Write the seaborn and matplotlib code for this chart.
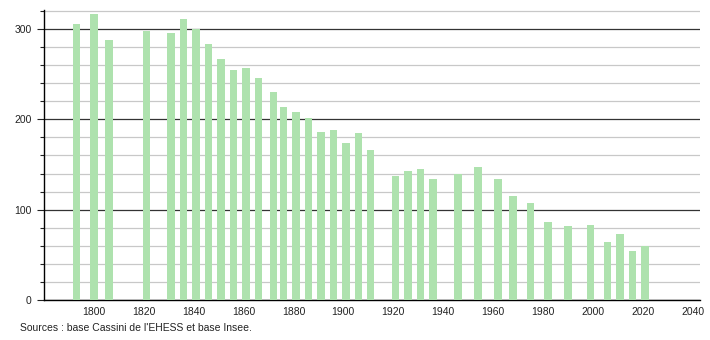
import matplotlib
matplotlib.use("Agg")
import matplotlib.pyplot as plt
import seaborn as sns
import pandas as pd
from matplotlib.ticker import MultipleLocator

years = [1793, 1800, 1806, 1821, 1831, 1836, 1841, 1846, 1851, 1856, 1861, 1866,
         1872, 1876, 1881, 1886, 1891, 1896, 1901, 1906, 1911, 1921, 1926, 1931,
         1936, 1946, 1954, 1962, 1968, 1975, 1982, 1990, 1999, 2006, 2011, 2016, 2021]
population = [306, 317, 288, 298, 295, 311, 300, 283, 267, 255, 257, 246,
              230, 214, 208, 201, 186, 188, 174, 185, 166, 137, 143, 145,
              134, 140, 147, 134, 115, 107, 86, 82, 83, 64, 73, 54, 60]
x_ticks = [1800, 1820, 1840, 1860, 1880, 1900, 1920, 1940, 1960, 1980, 2000, 2020, 2040]
y_ticks = [0, 100, 200, 300]
source_text = "Sources : base Cassini de l'EHESS et base Insee."

sns.set_theme(style="white")
plt.rcParams['font.family'] = ['Liberation Sans', 'DejaVu Sans']

df = pd.DataFrame({"year": years, "pop": population})

fig = plt.figure(figsize=(7.1, 3.4), dpi=100)
ax = fig.add_axes([44/710, 1 - 300/340, 656/710, 290/340])

sns.barplot(data=df, x="year", y="pop", native_scale=True, width=0.75,
            color="#aee2ae", saturation=1, linewidth=0, edgecolor="none",
            ax=ax, zorder=3)

ax.set_xlim(1780, 2043)
ax.set_ylim(0, 321)
ax.set_xticks(x_ticks)
ax.set_xticklabels([str(t) for t in x_ticks])
ax.set_yticks(y_ticks)
ax.yaxis.set_minor_locator(MultipleLocator(20))
ax.grid(axis="y", which="major", color="#333333", linewidth=0.9, zorder=1)
ax.grid(axis="y", which="minor", color="#c8c8c8", linewidth=0.9, zorder=1)
ax.set_axisbelow(True)
ax.set_xlabel("")
ax.set_ylabel("")
for s in ["top", "right"]:
    ax.spines[s].set_visible(False)
for s in ["left", "bottom"]:
    ax.spines[s].set_color("black")
    ax.spines[s].set_linewidth(1)
ax.tick_params(axis="x", length=0, labelsize=7.5, pad=5, colors="#222222")
ax.tick_params(axis="y", which="major", length=5, width=0.8, labelsize=7.5, pad=4,
               colors="#222222", left=True)
ax.tick_params(axis="y", which="minor", length=3, width=0.8, left=True, colors="#222222")

fig.text(20/710, 1 - 328/340, source_text, fontsize=7.5, color="#222222", va="center")

fig.savefig("out.png", dpi=100)
